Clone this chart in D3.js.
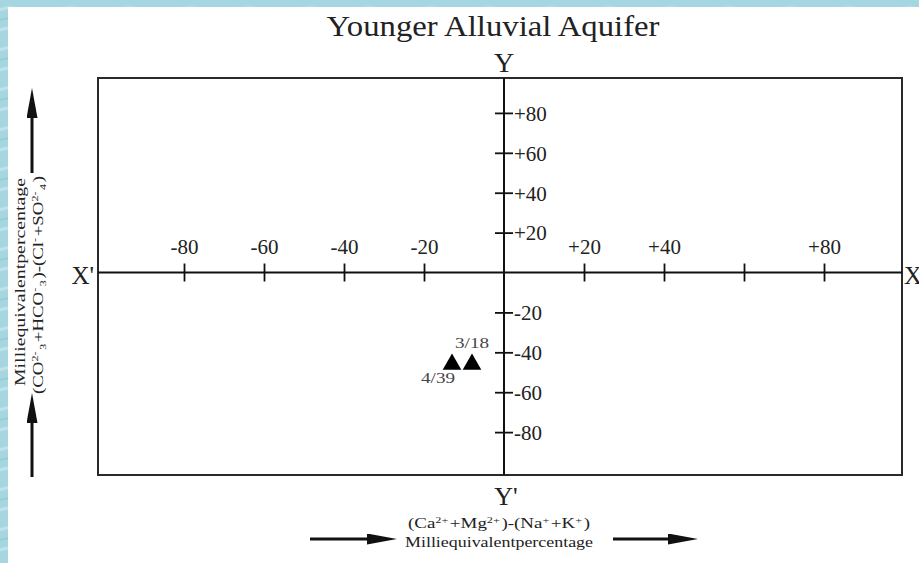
<!DOCTYPE html>
<html>
<head>
<meta charset="utf-8">
<script src="https://cdn.jsdelivr.net/npm/d3@7"></script>
<style>
  html, body { margin: 0; padding: 0; background: #a3d4de; }
  svg { display: block; font-family: "Liberation Serif", "Times New Roman", serif; }
</style>
</head>
<body>
<svg id="chart" width="919" height="563"></svg>
<script>
// ---- data ----
const xTicks = [-80, -60, -40, -20, 20, 40, 60, 80];
const xTickLabels = ["-80", "-60", "-40", "-20", "+20", "+40", "", "+80"];
const yTicks = [80, 60, 40, 20, -20, -40, -60, -80];
const yTickLabels = ["+80", "+60", "+40", "+20", "-20", "-40", "-60", "-80"];
const sampleIds = ["4/39", "3/18"];
const sampleX = [-13, -8];
const sampleY = [-46, -46];

const svg = d3.select("#chart");
const W = 919, H = 563;

// textured blue frame, white sheet
const defs = svg.append("defs");
const pat = defs.append("pattern")
    .attr("id", "water")
    .attr("width", 60).attr("height", 40)
    .attr("patternUnits", "userSpaceOnUse");
pat.append("rect").attr("width", 60).attr("height", 40).attr("fill", "#a6d6df");
pat.append("path")
    .attr("d", "M0,10 C15,2 30,18 60,8 M0,30 C20,22 35,38 60,28")
    .attr("fill", "none").attr("stroke", "#bfe3ea").attr("stroke-width", 3);
pat.append("path")
    .attr("d", "M0,20 C12,14 40,26 60,18")
    .attr("fill", "none").attr("stroke", "#93cbd6").attr("stroke-width", 1.5);

svg.append("rect").attr("width", W).attr("height", H).attr("fill", "url(#water)");
svg.append("rect").attr("x", 8).attr("y", 7).attr("width", W - 8).attr("height", H - 7).attr("fill", "#fff");

// scales
const box = { left: 98, right: 902, top: 78, bottom: 475 };
const x = d3.scaleLinear().domain([-101.5, 99.5]).range([box.left, box.right]);
const y = d3.scaleLinear().domain([-101.5, 97.5]).range([box.bottom, box.top]);

// frame
svg.append("rect")
    .attr("x", box.left).attr("y", box.top)
    .attr("width", box.right - box.left).attr("height", box.bottom - box.top)
    .attr("fill", "none").attr("stroke", "#2a2a2a").attr("stroke-width", 2);

// X axis through the origin
const xAxis = d3.axisBottom(x)
    .tickValues(xTicks)
    .tickSize(0)
    .tickFormat("");
const gx = svg.append("g").attr("transform", `translate(0,${y(0)})`).call(xAxis)
    .attr("font-family", null).attr("font-size", null);
gx.select(".domain").remove();
gx.append("line")
    .attr("x1", box.left).attr("x2", box.right)
    .attr("stroke", "#111").attr("stroke-width", 2);
gx.selectAll(".tick line")
    .attr("y1", -9).attr("y2", 9)
    .attr("stroke", "#111").attr("stroke-width", 1.8);
gx.selectAll(".tick").append("text")
    .attr("y", -19)
    .attr("text-anchor", "middle")
    .attr("fill", "#222")
    .attr("font-size", 21)
    .text((d, i) => xTickLabels[i]);

// Y axis through the origin
const yAxis = d3.axisRight(y)
    .tickValues(yTicks)
    .tickSize(0)
    .tickFormat("");
const gy = svg.append("g").attr("transform", `translate(${x(0)},0)`).call(yAxis)
    .attr("font-family", null).attr("font-size", null);
gy.select(".domain").remove();
gy.append("line")
    .attr("y1", box.top).attr("y2", box.bottom)
    .attr("stroke", "#111").attr("stroke-width", 2);
gy.selectAll(".tick line")
    .attr("x1", -9).attr("x2", 9)
    .attr("stroke", "#111").attr("stroke-width", 1.8);
gy.selectAll(".tick").append("text")
    .attr("x", 10)
    .attr("dy", "0.35em")
    .attr("fill", "#222")
    .attr("font-size", 21)
    .text((d, i) => yTickLabels[i]);

// axis letters
svg.append("text").attr("x", x(0)).attr("y", 72).attr("text-anchor", "middle")
    .attr("font-size", 28).attr("fill", "#222").text("Y");
svg.append("text").attr("x", x(0) + 2).attr("y", 505).attr("text-anchor", "middle")
    .attr("font-size", 26).attr("fill", "#222").text("Y'");
svg.append("text").attr("x", box.left - 4).attr("y", y(0) + 11).attr("text-anchor", "end")
    .attr("font-size", 25).attr("fill", "#222").text("X'");
svg.append("text").attr("x", box.right + 2).attr("y", y(0) + 11)
    .attr("font-size", 25).attr("fill", "#222").text("X");

// title
svg.append("text").attr("x", 493).attr("y", 36).attr("text-anchor", "middle")
    .attr("font-size", 29).attr("fill", "#222")
    .attr("textLength", 333).attr("lengthAdjust", "spacingAndGlyphs")
    .text("Younger Alluvial Aquifer");

// samples
const tri = d3.symbol().type(d3.symbolTriangle).size(150);
const samples = sampleIds.map((id, i) => ({ id, x: sampleX[i], y: sampleY[i] }));
svg.append("g").selectAll("path")
    .data(samples)
    .join("path")
    .attr("transform", d => `translate(${x(d.x)},${y(d.y)})`)
    .attr("d", tri)
    .attr("fill", "#000");
svg.append("text").attr("x", x(sampleX[0]) + 3).attr("y", y(sampleY[0]) + 19)
    .attr("text-anchor", "end").attr("font-size", 14).attr("fill", "#444")
    .attr("textLength", 34).attr("lengthAdjust", "spacingAndGlyphs").text(sampleIds[0]);
svg.append("text").attr("x", x(sampleX[1]) - 17).attr("y", y(sampleY[1]) - 16)
    .attr("font-size", 14).attr("fill", "#444")
    .attr("textLength", 34).attr("lengthAdjust", "spacingAndGlyphs").text(sampleIds[1]);

// arrows
defs.append("marker")
    .attr("id", "head")
    .attr("viewBox", "0 0 10 10")
    .attr("refX", 10).attr("refY", 5)
    .attr("markerUnits", "userSpaceOnUse")
    .attr("markerWidth", 30).attr("markerHeight", 11)
    .attr("orient", "auto")
    .attr("preserveAspectRatio", "none")
    .append("path").attr("d", "M0,0 L10,5 L0,10 Z").attr("fill", "#111");

const arrows = [
    [310, 539, 397, 539],
    [613, 539, 698, 539],
    [32, 173, 32, 88],
    [32, 477, 32, 393]
];
svg.append("g").selectAll("line")
    .data(arrows)
    .join("line")
    .attr("x1", d => d[0]).attr("y1", d => d[1])
    .attr("x2", d => d[2] - (d[2] > d[0] ? 20 : 0)).attr("y2", d => d[3] + (d[3] < d[1] ? 20 : 0))
    .attr("stroke", "#111").attr("stroke-width", 3);
svg.append("g").selectAll("line")
    .data(arrows)
    .join("line")
    .attr("x1", d => d[0] + (d[2] - d[0]) * 0.5).attr("y1", d => d[1] + (d[3] - d[1]) * 0.5)
    .attr("x2", d => d[2]).attr("y2", d => d[3])
    .attr("stroke", "none")
    .attr("marker-end", "url(#head)");

// sub/superscript helpers
function sup(t, s) {
    t.append("tspan").attr("font-size", 9).attr("dy", -5).text(s);
    t.append("tspan").attr("dy", 5).text("\u200a");
}
function sub(t, s) {
    t.append("tspan").attr("font-size", 9).attr("dy", 3).text(s);
    t.append("tspan").attr("dy", -3).text("\u200a");
}

// bottom axis title
const bt = svg.append("text").attr("x", 499).attr("y", 528)
    .attr("text-anchor", "middle").attr("font-size", 14).attr("fill", "#222")
    .attr("textLength", 182).attr("lengthAdjust", "spacingAndGlyphs");
bt.append("tspan").text("(Ca");
sup(bt, "2+");
bt.append("tspan").text("+Mg");
sup(bt, "2+");
bt.append("tspan").text(")-(Na");
sup(bt, "+");
bt.append("tspan").text("+K");
sup(bt, "+");
bt.append("tspan").text(")");
svg.append("text").attr("x", 499).attr("y", 547)
    .attr("text-anchor", "middle").attr("font-size", 14).attr("fill", "#222")
    .attr("textLength", 188).attr("lengthAdjust", "spacingAndGlyphs")
    .text("Milliequivalentpercentage");

// left axis title, rotated
const lg = svg.append("g").attr("transform", "translate(0,282) rotate(-90)");
lg.append("text").attr("x", 0).attr("y", 25)
    .attr("text-anchor", "middle").attr("font-size", 14).attr("fill", "#222")
    .attr("textLength", 208).attr("lengthAdjust", "spacingAndGlyphs")
    .text("Milliequivalentpercentage");
const lt = lg.append("text").attr("x", -3).attr("y", 43)
    .attr("text-anchor", "middle").attr("font-size", 14).attr("fill", "#222")
    .attr("textLength", 218).attr("lengthAdjust", "spacingAndGlyphs");
lt.append("tspan").text("(CO");
sup(lt, "2-");
sub(lt, "3");
lt.append("tspan").text("+HCO");
sup(lt, "-");
sub(lt, "3");
lt.append("tspan").text(")-(Cl");
sup(lt, "-");
lt.append("tspan").text("+SO");
sup(lt, "2-");
sub(lt, "4");
lt.append("tspan").text(")");
</script>
</body>
</html>
